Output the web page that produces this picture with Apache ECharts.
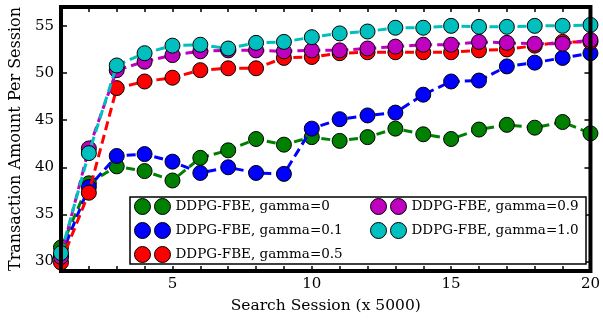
<!DOCTYPE html>
<html>
<head>
<meta charset="utf-8">
<script src="https://cdn.jsdelivr.net/npm/echarts@6/dist/echarts.min.js"></script>
<style>
  html, body { margin: 0; padding: 0; background: #fff; }
  #chart { width: 603px; height: 323px; }
</style>
</head>
<body>
<div id="chart"></div>
<script>
// search sessions (x 5000)
var sessions = [1, 2, 3, 4, 5, 6, 7, 8, 9, 10, 11, 12, 13, 14, 15, 16, 17, 18, 19, 20];

var gamma0   = [31.5, 38.3, 40.1, 39.6, 38.6, 41.0, 41.8, 43.0, 42.4, 43.2, 42.8, 43.2, 44.1, 43.5, 43.0, 44.0, 44.5, 44.2, 44.8, 43.6];
var gamma01  = [30.6, 37.9, 41.2, 41.4, 40.6, 39.4, 40.0, 39.4, 39.3, 44.1, 45.1, 45.5, 45.8, 47.7, 49.1, 49.2, 50.7, 51.1, 51.6, 52.1];
var gamma05  = [29.9, 37.3, 48.4, 49.1, 49.5, 50.3, 50.5, 50.5, 51.6, 51.7, 52.1, 52.2, 52.2, 52.2, 52.2, 52.4, 52.5, 52.9, 53.3, 53.3];
var gamma09  = [30.5, 42.0, 50.3, 51.2, 51.9, 52.3, 52.4, 52.4, 52.3, 52.4, 52.4, 52.6, 52.8, 53.0, 53.0, 53.3, 53.2, 53.1, 53.1, 53.5];
var gamma10  = [30.9, 41.5, 50.8, 52.1, 52.9, 53.0, 52.6, 53.2, 53.3, 53.8, 54.2, 54.4, 54.8, 54.8, 55.0, 54.9, 54.9, 55.0, 55.0, 55.1];

var seriesNames = ['DDPG-FBE, gamma=0', 'DDPG-FBE, gamma=0.1', 'DDPG-FBE, gamma=0.5',
                   'DDPG-FBE, gamma=0.9', 'DDPG-FBE, gamma=1.0'];
var seriesColors = ['#008000', '#0000ff', '#ff0000', '#bf00bf', '#00bfbf'];
var seriesData = [gamma0, gamma01, gamma05, gamma09, gamma10];

var xTicks = sessions;
var xLabels = [5, 10, 15, 20];
var yTicks = [30, 35, 40, 45, 50, 55];

var font = 'DejaVu Serif';
var twoDots = 'path://M0,8a8,8 0 1,0 16,0a8,8 0 1,0 -16,0Z M20,8a8,8 0 1,0 16,0a8,8 0 1,0 -16,0Z';

var chart = echarts.init(document.getElementById('chart'));

var series = seriesNames.map(function (name, i) {
    return {
        name: name,
        type: 'line',
        data: sessions.map(function (s, j) { return [s, seriesData[i][j]]; }),
        symbol: 'circle',
        symbolSize: 15,
        clip: false,
        lineStyle: { color: seriesColors[i], width: 3, type: [9, 5] },
        itemStyle: { color: seriesColors[i], borderColor: '#000', borderWidth: 1 },
        emphasis: { disabled: true },
        z: 2 + i
    };
});

var tickStyle = { color: '#000', width: 1.5 };

function legendFor(names, left) {
    return {
        data: names,
        orient: 'vertical', left: left, top: 198, padding: 0, itemGap: 7,
        icon: twoDots, itemWidth: 36, itemHeight: 16,
        itemStyle: { borderColor: '#000', borderWidth: 1 },
        textStyle: { fontFamily: font, fontSize: 13.5, color: '#000' },
        selectedMode: false, z: 30
    };
}

var option = {
    animation: false,
    textStyle: { fontFamily: font },
    grid: {
        left: 59, right: 7, top: 7, bottom: 52,
        show: true, borderColor: '#000', borderWidth: 4, backgroundColor: 'transparent', z: 10
    },
    xAxis: [{
        type: 'value', min: 1, max: 20,
        name: 'Search Session (x 5000)', nameLocation: 'middle', nameGap: 27,
        nameTextStyle: { fontFamily: font, fontSize: 15.5, color: '#000' },
        axisLine: { show: false },
        splitLine: { show: false },
        axisTick: { inside: true, length: 5, lineStyle: tickStyle, customValues: xTicks },
        axisLabel: { customValues: xLabels, color: '#000', fontFamily: font, fontSize: 15, margin: 6 }
    }, {
        type: 'value', min: 1, max: 20, position: 'top',
        axisLine: { show: false },
        splitLine: { show: false },
        axisTick: { inside: true, length: 5, lineStyle: tickStyle, customValues: xTicks },
        axisLabel: { show: false }
    }],
    yAxis: [{
        type: 'value', min: 29, max: 57,
        name: 'Transaction Amount Per Session', nameLocation: 'middle', nameGap: 36,
        nameTextStyle: { fontFamily: font, fontSize: 16, color: '#000' },
        axisLine: { show: false },
        splitLine: { show: false },
        axisTick: { inside: true, length: 6, lineStyle: tickStyle, customValues: yTicks },
        axisLabel: { customValues: yTicks, color: '#000', fontFamily: font, fontSize: 15, margin: 7 }
    }, {
        type: 'value', min: 29, max: 57, position: 'right',
        axisLine: { show: false },
        splitLine: { show: false },
        axisTick: { inside: true, length: 6, lineStyle: tickStyle, customValues: yTicks },
        axisLabel: { show: false }
    }],
    graphic: [{
        type: 'rect', z: 20,
        shape: { x: 130, y: 197, width: 456, height: 67 },
        style: { fill: '#fff', stroke: '#000', lineWidth: 1.5 }
    }],
    legend: [legendFor(seriesNames.slice(0, 3), 134), legendFor(seriesNames.slice(3), 370)],
    series: series
};

chart.setOption(option);
</script>
</body>
</html>
